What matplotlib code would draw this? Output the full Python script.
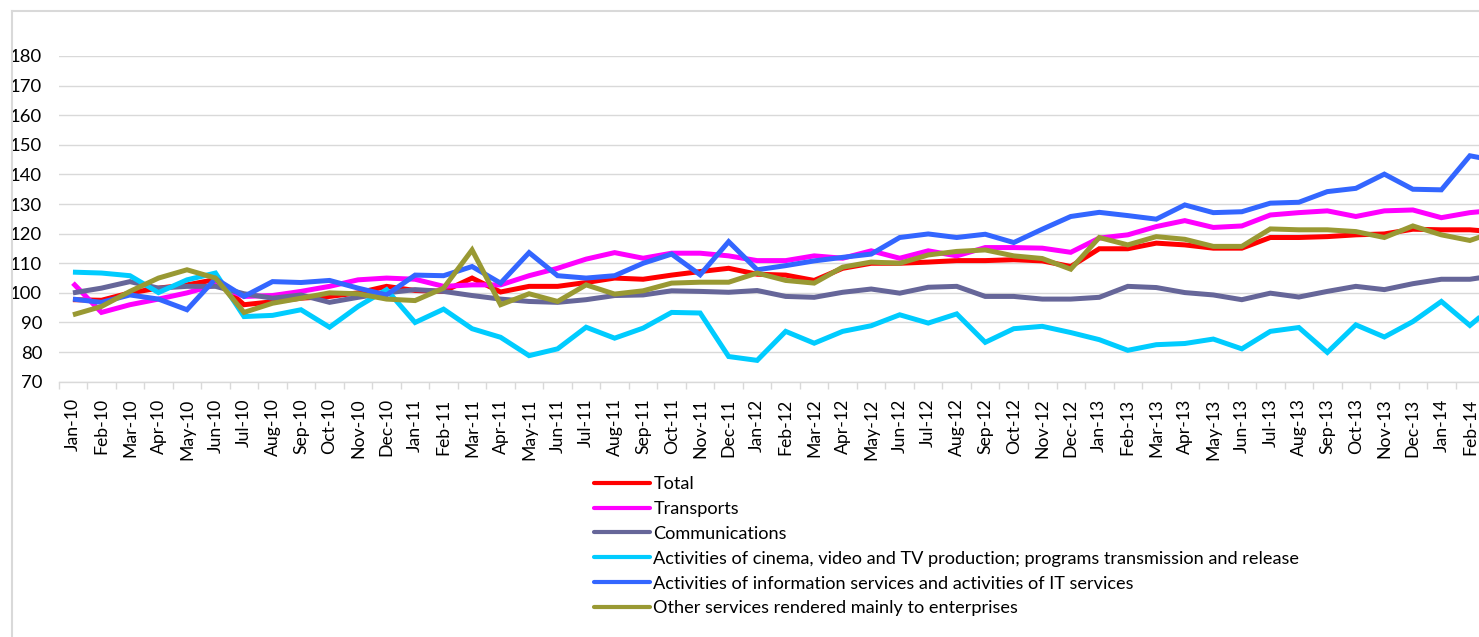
import matplotlib
matplotlib.use("Agg")
import matplotlib.pyplot as plt
from matplotlib.lines import Line2D
from matplotlib.ticker import FixedLocator

plt.rcParams['font.family'] = ['Lato', 'DejaVu Sans']

month_names = ["Jan", "Feb", "Mar", "Apr", "May", "Jun", "Jul", "Aug", "Sep", "Oct", "Nov", "Dec"]
years = ["10", "11", "12", "13", "14"]
categories = [f"{m}-{y}" for y in years for m in month_names][:51]  # Jan-10 .. Mar-14

total = [97.7, 97.5, 100, 101.6, 102.7, 104.5, 96, 97, 98.2, 98.8, 100, 102.2, 100.8, 100.5, 105,
         100.3, 102.2, 102.2, 103.5, 105, 104.6, 106, 107.2, 108.3, 106.3, 106, 104.2, 108.3, 110, 110,
         110.4, 110.9, 110.9, 111.2, 110.8, 108.9, 114.9, 114.9, 116.8, 116.2, 115.1, 115.1, 118.7, 118.7,
         119, 119.6, 119.9, 121.5, 121.3, 121.3, 120.5]
transports = [103.3, 93.4, 96, 97.9, 100, 102.7, 98.8, 99.1, 100.5, 102.2, 104.4, 105, 104.6, 102.2, 102.7,
              102.7, 105.8, 108.3, 111.4, 113.6, 111.7, 113.4, 113.4, 112.5, 110.9, 110.9, 112.5, 111.7, 114.2,
              111.7, 114.2, 112.5, 115.3, 115.3, 115.1, 113.7, 118.5, 119.6, 122.4, 124.4, 122.1, 122.6, 126.3,
              127.1, 127.7, 125.8, 127.7, 128, 125.4, 127.1, 128]
communications = [100, 101.6, 103.8, 101.6, 102.2, 102.2, 99.7, 98.2, 99.3, 96.8, 98.5, 100, 101.1, 100.5, 99.1,
                  97.9, 97.1, 96.8, 97.7, 99.1, 99.3, 100.7, 100.5, 100.2, 100.8, 98.8, 98.5, 100.2, 101.3, 99.9,
                  101.9, 102.2, 98.8, 98.8, 97.9, 97.9, 98.5, 102.2, 101.8, 100.1, 99.3, 97.7, 99.9, 98.6, 100.5,
                  102.2, 101.1, 103.1, 104.6, 104.6, 106]
cinema = [107, 106.7, 105.8, 100.1, 104.4, 106.7, 92, 92.4, 94.3, 88.4, 95.4, 101.1, 90, 94.5, 87.9,
          85, 78.8, 81.1, 88.4, 84.7, 88.1, 93.4, 93.2, 78.5, 77.2, 87, 83, 87, 88.9, 92.6, 89.8, 92.9,
          83.3, 87.9, 88.7, 86.6, 84.2, 80.6, 82.5, 82.9, 84.4, 81.1, 87, 88.3, 79.9, 89.2, 85.1, 90.3,
          97.1, 89, 97]
it_services = [97.9, 96.8, 99.3, 97.9, 94.3, 104.8, 98.8, 103.8, 103.5, 104.2, 101.6, 99.3, 106, 105.8, 108.9,
               103.3, 113.6, 105.8, 105, 105.8, 110, 113.1, 106.1, 117.3, 107.8, 109.2, 110.8, 112, 113.1,
               118.7, 119.9, 118.7, 119.8, 117, 121.5, 125.8, 127.2, 126.1, 124.9, 129.7, 127.1, 127.4, 130.3,
               130.6, 134.2, 135.3, 140.1, 135, 134.8, 146.3, 144.5]
other = [92.6, 95.4, 100.5, 105, 107.8, 105, 93.4, 96.5, 98.2, 100, 99.7, 97.9, 97.4, 101.6, 114.5,
         96, 99.7, 97.1, 102.7, 99.6, 100.7, 103.3, 103.6, 103.6, 106.7, 104.2, 103.3, 108.7, 110.4, 110,
         112.8, 114, 114.5, 112.5, 111.6, 108, 118.7, 116.2, 119, 118.1, 115.7, 115.7, 121.6, 121.3, 121.3,
         120.7, 118.7, 122.6, 119.6, 117.7, 121]

series_names = ["Total", "Transports", "Communications",
                "Activities of cinema, video and TV production; programs transmission and release",
                "Activities of information services and activities of IT services",
                "Other services rendered mainly to enterprises"]
series_values = [total, transports, communications, cinema, it_services, other]
series_colors = ["#FF0000", "#FF00FF", "#666699", "#00CCFF", "#3366FF", "#999933"]
y_ticks = [70, 80, 90, 100, 110, 120, 130, 140, 150, 160, 170, 180]

W, H = 1479, 637
fig = plt.figure(figsize=(W / 100, H / 100), dpi=100)
fig.patch.set_facecolor("white")

left_px, right_px, top_px, bottom_px = 58.7, 1479, 56, 381.7
ax = fig.add_axes([left_px / W, 1 - bottom_px / H, (right_px - left_px) / W, (bottom_px - top_px) / H])

x = list(range(len(categories)))
handles = []
for name, vals, col in zip(series_names, series_values, series_colors):
    ax.plot(x, vals, color=col, lw=3.6, solid_joinstyle="miter", solid_capstyle="butt", label=name)
    handles.append(Line2D([0], [0], color=col, lw=3.0, solid_capstyle="round"))

ax.set_yticks(y_ticks)
ax.set_yticklabels([str(v) for v in y_ticks])
ax.set_xticks(x)
ax.set_xticklabels(categories, rotation=90)
ax.xaxis.set_minor_locator(FixedLocator([i - 0.5 for i in range(len(categories) + 1)]))
ax.set_xlim(-0.5, 49.32)
ax.set_ylim(70, 180)

grid_col = "#D9D9D9"
ax.grid(axis="y", color=grid_col, lw=1.0)
ax.set_axisbelow(True)
for s in ["top", "right", "left"]:
    ax.spines[s].set_visible(False)
ax.spines["bottom"].set_color(grid_col)
ax.spines["bottom"].set_linewidth(1.0)
ax.tick_params(axis="y", length=0, pad=12, labelsize=13.3, labelcolor="#000000")
ax.tick_params(axis="x", which="major", length=0, pad=12, labelsize=12.7, labelcolor="#000000")
ax.tick_params(axis="x", which="minor", length=5, width=1, color=grid_col, direction="out")

# chart border
fig.add_artist(Line2D([12 / W, 12 / W], [0, 1 - 11 / H], color=grid_col, lw=1.5, transform=fig.transFigure))
fig.add_artist(Line2D([12 / W, 1], [1 - 11 / H, 1 - 11 / H], color=grid_col, lw=1.5, transform=fig.transFigure))

fig.legend(handles, series_names, loc="upper left", bbox_to_anchor=(594 / W, 1 - 476 / H),
           frameon=False, fontsize=13.05, handlelength=3.1, handletextpad=0.18,
           labelspacing=0.49, borderpad=0, borderaxespad=0)

fig.savefig("out.png", dpi=100, facecolor="white")
